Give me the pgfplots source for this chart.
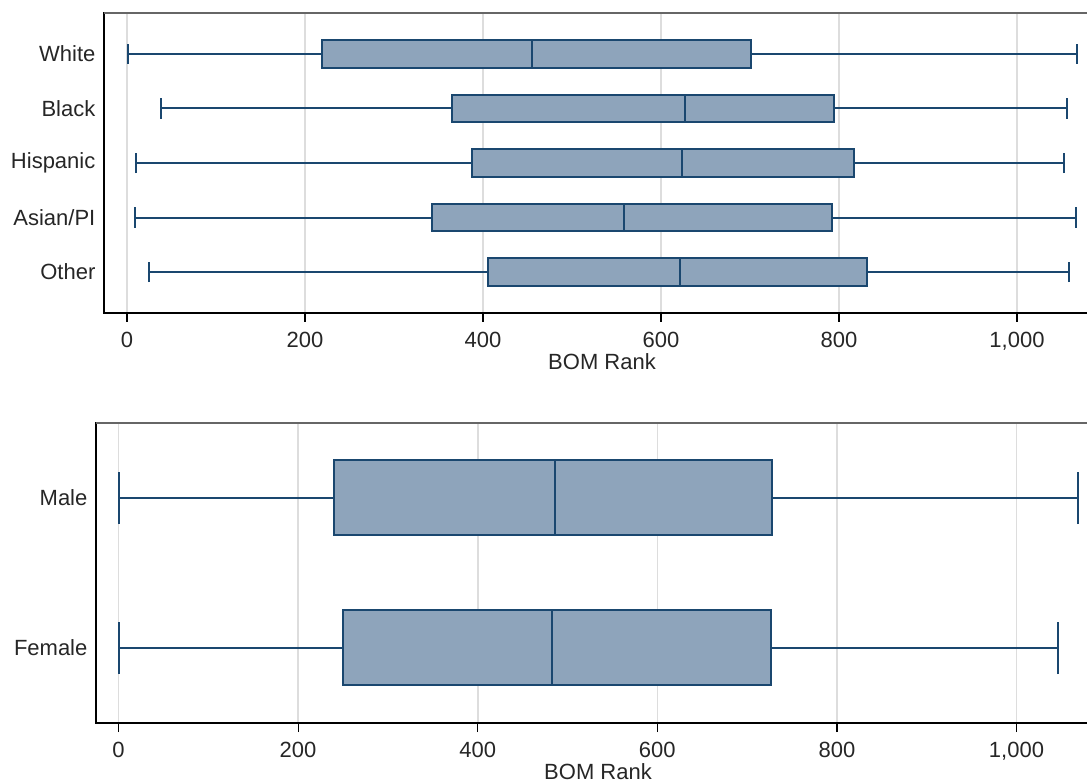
\documentclass[border=0pt]{standalone}
\usepackage{fontspec}
\setmainfont{Liberation Sans}
\usepackage{pgfplots}
\pgfplotsset{compat=1.18}
\usepgfplotslibrary{statistics}

\definecolor{boxfill}{RGB}{142,164,187}
\definecolor{boxline}{RGB}{26,71,111}
\definecolor{gridc}{RGB}{221,221,221}
\definecolor{txt}{RGB}{38,38,38}

\pgfplotsset{
  bomaxis/.style={
    scale only axis,
    axis line style={draw=black, line width=1.1bp},
    xtick={0,200,400,600,800,1000},
    xmajorgrids,
    major grid style={gridc, line width=0.8bp},
    tick align=outside,
    xtick pos=bottom,
    ytick pos=left,
    major tick length=4.5bp,
    xtick style={black, line width=0.6bp},
    ytick style={draw=none},
    /pgf/number format/1000 sep={,},
    /pgf/number format/assume math mode=true,
    tick label style={font=\fontsize{11bp}{13bp}\selectfont, text=txt},
    xticklabel style={yshift=-1.5bp},
    yticklabel style={xshift=3.7bp},
    xlabel={BOM Rank},
    label style={font=\fontsize{11bp}{13bp}\selectfont, text=txt},
    boxplot/every box/.style={draw=boxline, fill=boxfill, line width=1bp},
    boxplot/every median/.style={draw=boxline, line width=1bp},
    boxplot/every whisker/.style={draw=boxline, line width=1bp},
  },
}

\begin{document}
\begin{tikzpicture}
\useasboundingbox (0,0) rectangle (543.5bp,391.5bp);
\clip (0,0) rectangle (543.5bp,391.5bp);

% Rank by race / ethnicity
\begin{axis}[bomaxis, name=race,
  at={(52bp,235bp)}, anchor=south west,
  width=498bp, height=150bp,
  xmin=-25.84, xmax=1093.3,
  ymin=0.25, ymax=5.75,
  ytick={1,2,3,4,5},
  yticklabels={Other,Asian/PI,Hispanic,Black,White},
  xlabel style={at={(axis description cs:0.5,0)}, anchor=north, yshift=-16.8bp},
]
\addplot[boxplot prepared={draw position=5, lower whisker=1, lower quartile=219,
  median=455, upper quartile=701, upper whisker=1068,
  box extend=0.5, whisker extend=0.37}] coordinates {};
\addplot[boxplot prepared={draw position=4, lower whisker=38, lower quartile=365,
  median=627, upper quartile=794, upper whisker=1056,
  box extend=0.5, whisker extend=0.37}] coordinates {};
\addplot[boxplot prepared={draw position=3, lower whisker=10, lower quartile=388,
  median=624, upper quartile=817, upper whisker=1053,
  box extend=0.5, whisker extend=0.37}] coordinates {};
\addplot[boxplot prepared={draw position=2, lower whisker=9, lower quartile=343,
  median=558, upper quartile=792, upper whisker=1066,
  box extend=0.5, whisker extend=0.37}] coordinates {};
\addplot[boxplot prepared={draw position=1, lower whisker=25, lower quartile=406,
  median=621, upper quartile=831, upper whisker=1058,
  box extend=0.5, whisker extend=0.37}] coordinates {};
\end{axis}
\draw[black!60, line width=1bp] (race.north west) -- (race.north east);

% Rank by gender
\begin{axis}[bomaxis, name=gender,
  at={(48bp,30bp)}, anchor=south west,
  width=502bp, height=150bp,
  xmin=-25.06, xmax=1093,
  ymin=0.5, ymax=2.5,
  ytick={1,2},
  yticklabels={Female,Male},
  xlabel style={at={(axis description cs:0.5,0)}, anchor=north, yshift=-16.8bp},
]
\addplot[boxplot prepared={draw position=2, lower whisker=1, lower quartile=240,
  median=486, upper quartile=728, upper whisker=1068,
  box extend=0.5, whisker extend=0.35}] coordinates {};
\addplot[boxplot prepared={draw position=1, lower whisker=1, lower quartile=250,
  median=483, upper quartile=727, upper whisker=1046,
  box extend=0.5, whisker extend=0.35}] coordinates {};
\end{axis}
\draw[black!60, line width=1bp] (gender.north west) -- (gender.north east);
\end{tikzpicture}
\end{document}
